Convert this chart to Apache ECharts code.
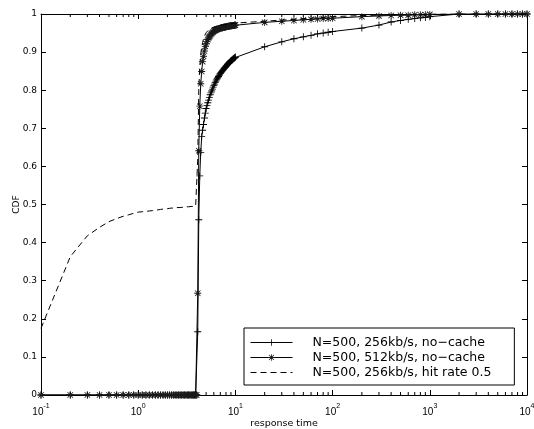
<!DOCTYPE html>
<html>
<head>
<meta charset="utf-8">
<script src="https://cdn.jsdelivr.net/npm/echarts@6/dist/echarts.min.js"></script>
<style>
  html, body { margin: 0; padding: 0; background: #fff; }
  #chart { width: 534px; height: 429px; }
</style>
</head>
<body>
<div id="chart"></div>
<script>
// sample points of response time (x)
const xs = [
  0.1, 0.2, 0.3, 0.4, 0.5, 0.6, 0.7, 0.8, 0.9, 1.0,
  1.1, 1.2, 1.3, 1.4, 1.5, 1.6, 1.7, 1.8, 1.9, 2.0,
  2.1, 2.2, 2.3, 2.4, 2.5, 2.6, 2.7, 2.8, 2.9, 3.0,
  3.1, 3.2, 3.3, 3.4, 3.5, 3.6, 3.7, 3.8, 3.9, 4.0,
  4.1, 4.2, 4.3, 4.4, 4.5, 4.6, 4.7, 4.8, 4.9, 5.0,
  5.1, 5.2, 5.3, 5.4, 5.5, 5.6, 5.7, 5.8, 5.9, 6.0,
  6.1, 6.2, 6.3, 6.4, 6.5, 6.6, 6.7, 6.8, 6.9, 7.0,
  7.1, 7.2, 7.3, 7.4, 7.5, 7.6, 7.7, 7.8, 7.9, 8.0,
  8.1, 8.2, 8.3, 8.4, 8.5, 8.6, 8.7, 8.8, 8.9, 9.0,
  9.1, 9.2, 9.3, 9.4, 9.5, 9.6, 9.7, 9.8, 9.9, 10,
  20, 30, 40, 50, 60, 70, 80, 90, 100,
  200, 300, 400, 500, 600, 700, 800, 900, 1000,
  2000, 3000, 4000, 5000, 6000, 7000, 8000, 9000, 10000
];

// N=500, 256kb/s, no-cache
const cdf256 = [
  0, 0, 0, 0, 0, 0, 0, 0, 0, 0,
  0, 0, 0, 0, 0, 0, 0, 0, 0, 0,
  0, 0, 0, 0, 0, 0, 0, 0, 0, 0,
  0, 0, 0, 0, 0, 0, 0, 0, 0, 0,
  0.166, 0.46, 0.575, 0.637, 0.678, 0.695, 0.71, 0.727, 0.740, 0.752,
  0.760, 0.767, 0.774, 0.781, 0.788, 0.793, 0.798, 0.803, 0.808, 0.812,
  0.816, 0.820, 0.824, 0.827, 0.830, 0.833, 0.836, 0.839, 0.842, 0.844,
  0.846, 0.848, 0.850, 0.852, 0.854, 0.856, 0.858, 0.860, 0.861, 0.863,
  0.864, 0.866, 0.867, 0.869, 0.870, 0.872, 0.873, 0.875, 0.876, 0.877,
  0.878, 0.879, 0.880, 0.881, 0.882, 0.883, 0.884, 0.885, 0.886, 0.887,
  0.914, 0.927, 0.935, 0.940, 0.944, 0.948, 0.950, 0.952, 0.954,
  0.963, 0.971, 0.979, 0.983, 0.986, 0.988, 0.990, 0.991, 0.993,
  1, 1, 1, 1, 1, 1, 1, 1, 1
];

// N=500, 512kb/s, no-cache
const cdf512 = [
  0, 0, 0, 0, 0, 0, 0, 0, 0, 0,
  0, 0, 0, 0, 0, 0, 0, 0, 0, 0,
  0, 0, 0, 0, 0, 0, 0, 0, 0, 0,
  0, 0, 0, 0, 0, 0, 0, 0, 0, 0,
  0.267, 0.641, 0.758, 0.817, 0.849, 0.875, 0.889, 0.903, 0.915, 0.922,
  0.928, 0.933, 0.937, 0.940, 0.943, 0.946, 0.949, 0.951, 0.953, 0.955,
  0.956, 0.957, 0.958, 0.959, 0.960, 0.960, 0.961, 0.962, 0.962, 0.963,
  0.963, 0.964, 0.964, 0.964, 0.965, 0.965, 0.965, 0.966, 0.966, 0.966,
  0.967, 0.967, 0.967, 0.968, 0.968, 0.968, 0.968, 0.969, 0.969, 0.969,
  0.969, 0.969, 0.970, 0.970, 0.970, 0.970, 0.970, 0.971, 0.971, 0.971,
  0.978, 0.981, 0.983, 0.985, 0.986, 0.987, 0.988, 0.988, 0.989,
  0.993, 0.995, 0.996, 0.997, 0.997, 0.998, 0.998, 0.998, 0.999,
  1, 1, 1, 1, 1, 1, 1, 1, 1
];

// N=500, 256kb/s, hit rate 0.5
const cdfHit = [
  0.175, 0.363, 0.418, 0.440, 0.455, 0.463, 0.469, 0.473, 0.477, 0.480,
  0.481, 0.482, 0.483, 0.484, 0.485, 0.486, 0.487, 0.488, 0.488, 0.489,
  0.490, 0.490, 0.491, 0.491, 0.492, 0.492, 0.492, 0.493, 0.493, 0.493,
  0.494, 0.494, 0.494, 0.494, 0.495, 0.495, 0.495, 0.495, 0.496, 0.496,
  0.620, 0.800, 0.860, 0.895, 0.912, 0.925, 0.935, 0.942, 0.947, 0.951,
  0.954, 0.956, 0.958, 0.960, 0.961, 0.962, 0.963, 0.964, 0.965, 0.966,
  0.966, 0.967, 0.967, 0.968, 0.968, 0.968, 0.969, 0.969, 0.969, 0.970,
  0.970, 0.970, 0.971, 0.971, 0.971, 0.971, 0.972, 0.972, 0.972, 0.972,
  0.973, 0.973, 0.973, 0.973, 0.974, 0.974, 0.974, 0.974, 0.974, 0.975,
  0.975, 0.975, 0.975, 0.975, 0.975, 0.976, 0.976, 0.976, 0.976, 0.976,
  0.981, 0.984, 0.986, 0.988, 0.989, 0.990, 0.991, 0.992, 0.993,
  0.996, 0.997, 0.998, 0.998, 0.999, 0.999, 0.999, 0.999, 1,
  1, 1, 1, 1, 1, 1, 1, 1, 1
];

const names = ['N=500, 256kb/s, no\u2212cache', 'N=500, 512kb/s, no\u2212cache', 'N=500, 256kb/s, hit rate 0.5'];

// minor ticks of the log axis
const minorTicks = [
  0.2, 0.3, 0.4, 0.5, 0.6, 0.7, 0.8, 0.9,
  2, 3, 4, 5, 6, 7, 8, 9,
  20, 30, 40, 50, 60, 70, 80, 90,
  200, 300, 400, 500, 600, 700, 800, 900,
  2000, 3000, 4000, 5000, 6000, 7000, 8000, 9000
];

const FONT = 'DejaVu Sans';
const TICK_FONT = 'Liberation Sans';
const plusSymbol = 'path://M4.4,0H5.6V4.4H10V5.6H5.6V10H4.4V5.6H0V4.4H4.4Z';
const starSymbol = 'path://M4.4,0H5.6V4.4H10V5.6H5.6V10H4.4V5.6H0V4.4H4.4Z M1.5,0.7L9.3,8.5L8.5,9.3L0.7,1.5Z M8.5,0.7L9.3,1.5L1.5,9.3L0.7,8.5Z';

function pairs(ys) {
  return xs.map((x, i) => [x, ys[i]]);
}

const axisLineStyle = { color: '#000', width: 1 };

let myChart = echarts.init(document.getElementById('chart'));
myChart.setOption({
  animation: false,
  backgroundColor: '#fff',
  grid: { left: 41, right: 7, top: 14, bottom: 34, outerBoundsMode: 'none' },
  legend: {
    data: names,
    orient: 'vertical',
    left: 244,
    top: 328,
    backgroundColor: '#fff',
    borderColor: '#000',
    borderWidth: 1,
    borderRadius: 0,
    padding: [7, 23, 5, 6],
    itemWidth: 42,
    itemHeight: 8,
    itemGap: 0,
    selectedMode: false,
    lineStyle: { width: 1, color: '#000' },
    textStyle: { fontFamily: FONT, fontSize: 12.5, color: '#000', lineHeight: 15, padding: [0, 0, 0, 15] }
  },
  xAxis: [
    {
      type: 'log',
      logBase: 10,
      min: 0.1,
      max: 10000,
      position: 'bottom',
      axisLine: { onZero: false, lineStyle: axisLineStyle },
      axisTick: { inside: true, length: 5, lineStyle: axisLineStyle },
      splitLine: { show: false },
      axisLabel: {
        margin: 8,
        hideOverlap: false,
        formatter: function (v) {
          return '{b|10}{s|' + Math.round(Math.log10(v)) + '}';
        },
        rich: {
          b: { fontFamily: TICK_FONT, fontSize: 10, color: '#000', lineHeight: 18 },
          s: { fontFamily: TICK_FONT, fontSize: 7, color: '#000', lineHeight: 10, verticalAlign: 'top' }
        }
      },
      name: 'response time',
      nameLocation: 'middle',
      nameGap: 24,
      nameMoveOverlap: false,
      nameTextStyle: { fontFamily: FONT, fontSize: 9.5, color: '#000' }
    },
    {
      type: 'log',
      logBase: 10,
      min: 0.1,
      max: 10000,
      position: 'top',
      axisLine: { onZero: false, lineStyle: axisLineStyle },
      axisTick: { inside: true, length: 5, lineStyle: axisLineStyle },
      axisLabel: { show: false },
      splitLine: { show: false }
    }
  ],
  yAxis: [
    {
      type: 'value',
      min: 0,
      max: 1,
      interval: 0.1,
      axisLine: { show: true, onZero: false, lineStyle: axisLineStyle },
      axisTick: { show: true, inside: true, length: 5, lineStyle: axisLineStyle },
      splitLine: { show: false },
      axisLabel: { margin: 4, fontFamily: FONT, fontSize: 9, color: '#000' },
      name: 'CDF',
      nameLocation: 'middle',
      nameGap: 20,
      nameMoveOverlap: false,
      nameTextStyle: { fontFamily: FONT, fontSize: 9, color: '#000' }
    },
    {
      type: 'value',
      min: 0,
      max: 1,
      interval: 0.1,
      position: 'right',
      axisLine: { show: true, onZero: false, lineStyle: axisLineStyle },
      axisTick: { show: true, inside: true, length: 5, lineStyle: axisLineStyle },
      axisLabel: { show: false },
      splitLine: { show: false }
    }
  ],
  series: [
    {
      name: 'minor ticks',
      type: 'custom',
      silent: true,
      clip: false,
      data: minorTicks.map(v => [v]),
      renderItem: function (params, api) {
        const b = api.coord([api.value(0), 0]);
        const t = api.coord([api.value(0), 1]);
        return {
          type: 'group',
          children: [
            { type: 'line', shape: { x1: b[0], y1: b[1], x2: b[0], y2: b[1] - 3 }, style: { stroke: '#000', lineWidth: 1 } },
            { type: 'line', shape: { x1: t[0], y1: t[1], x2: t[0], y2: t[1] + 3 }, style: { stroke: '#000', lineWidth: 1 } }
          ]
        };
      }
    },
    {
      name: names[0],
      type: 'line',
      data: pairs(cdf256),
      symbol: plusSymbol,
      symbolSize: 7,
      silent: true,
      lineStyle: { color: '#000', width: 1 },
      itemStyle: { color: '#000' },
      z: 3
    },
    {
      name: names[1],
      type: 'line',
      data: pairs(cdf512),
      symbol: starSymbol,
      symbolSize: 7,
      silent: true,
      lineStyle: { color: '#000', width: 1 },
      itemStyle: { color: '#1a1a1a' },
      z: 4
    },
    {
      name: names[2],
      type: 'line',
      data: pairs(cdfHit),
      symbol: 'none',
      silent: true,
      lineStyle: { color: '#000', width: 1, type: [6, 4] },
      itemStyle: { color: '#000', opacity: 0 },
      z: 5
    }
  ]
});
</script>
</body>
</html>
